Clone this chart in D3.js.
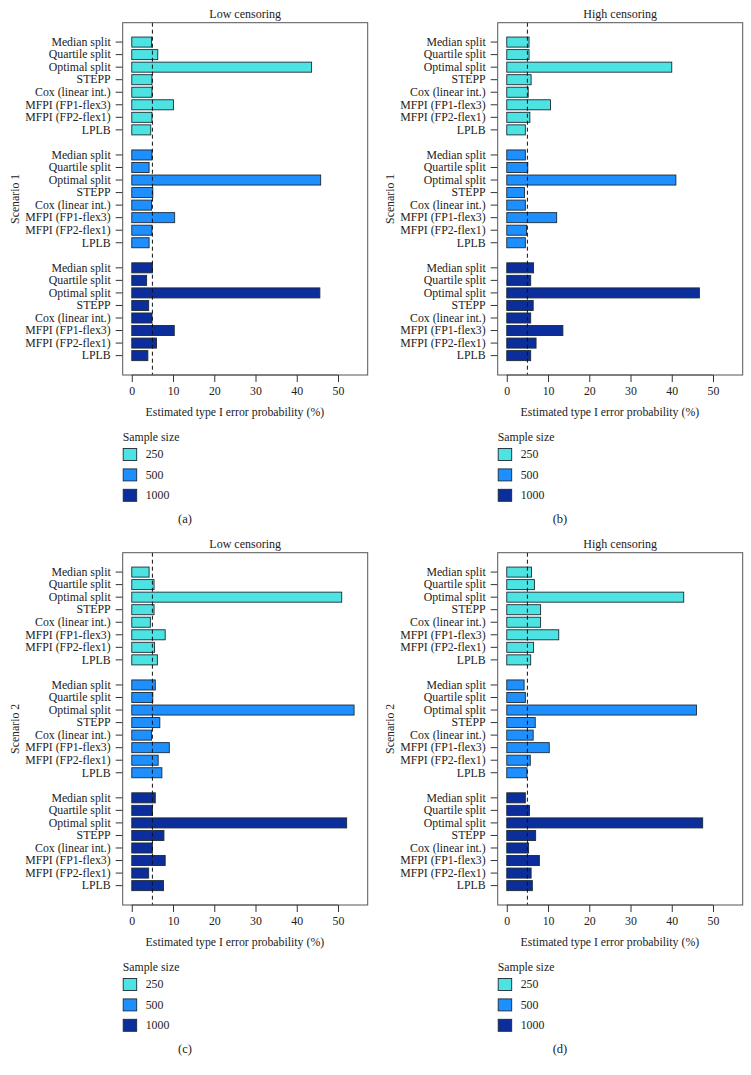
<!DOCTYPE html>
<html>
<head>
<meta charset="utf-8">
<script src="https://cdn.jsdelivr.net/npm/d3@7"></script>
<style>
  body { margin: 0; background: #fff; }
  svg text { font-family: "Liberation Serif", "DejaVu Serif", serif; fill: #222; }
</style>
</head>
<body>
<svg id="chart" width="751" height="1075"></svg>
<script>
// ---- data ----
const methods = ["Median split", "Quartile split", "Optimal split", "STEPP",
  "Cox (linear int.)", "MFPI (FP1-flex3)", "MFPI (FP2-flex1)", "LPLB"];
const sampleSizes = ["250", "500", "1000"];
const xTicks = [0, 10, 20, 30, 40, 50];
const panelLabels = ["(a)", "(b)", "(c)", "(d)"];
const panelTitles = ["Low censoring", "High censoring", "Low censoring", "High censoring"];
const scenarioLabels = ["Scenario 1", "Scenario 1", "Scenario 2", "Scenario 2"];

// values per panel: [n=250, n=500, n=1000], each in method order
const panelA = [
  [4.8, 6.3, 43.6, 4.9, 4.9, 10.1, 4.9, 4.6],
  [4.9, 4.2, 45.8, 5.1, 4.8, 10.4, 4.9, 4.2],
  [5.0, 3.6, 45.6, 4.1, 4.9, 10.3, 6.0, 3.9]
];
const panelB = [
  [5.4, 5.4, 40.0, 5.9, 5.2, 10.6, 5.6, 4.5],
  [4.5, 5.1, 41.0, 4.3, 4.5, 12.1, 4.8, 4.5],
  [6.5, 5.8, 46.7, 6.4, 5.8, 13.6, 7.1, 5.8]
];
const panelC = [
  [4.2, 5.4, 50.9, 5.4, 4.5, 8.1, 5.5, 6.2],
  [5.7, 5.1, 53.9, 6.8, 4.8, 9.1, 6.4, 7.3],
  [5.7, 5.0, 52.1, 7.8, 5.0, 8.1, 4.1, 7.7]
];
const panelD = [
  [6.0, 6.7, 42.9, 8.2, 8.2, 12.6, 6.5, 5.8],
  [4.2, 4.5, 46.0, 6.9, 6.4, 10.3, 5.7, 4.9],
  [4.5, 5.5, 47.5, 7.0, 5.3, 7.9, 5.9, 6.2]
];
const panels = [panelA, panelB, panelC, panelD];
const nominalLevel = 5;

// ---- style / layout ----
const colors = ["#4ee3e3", "#1e8fff", "#0b2e9c"];
const FS = 11.8;
const svg = d3.select("#chart");
const box = { left: 122.7, right: 367.7, top: 22.7, bottom: 375 };
const offsets = [[0, 0], [375, 0], [0, 530], [375, 530]];

// slot keys: 8 bars, a gap, 8 bars, a gap, 8 bars
const slotKeys = [];
sampleSizes.forEach((s, g) => {
  methods.forEach(m => slotKeys.push(s + "|" + m));
  if (g < sampleSizes.length - 1) slotKeys.push("gap" + g);
});

const x = d3.scaleLinear().domain([-2.2, 57.2]).range([box.left, box.right]);
const y = d3.scaleBand().domain(slotKeys).range([box.top, box.bottom])
  .paddingInner(0.2).paddingOuter(1.145);

panels.forEach((data, p) => {
  const [dx, dy] = offsets[p];
  const g = svg.append("g").attr("transform", `translate(${dx},${dy})`);

  // title
  g.append("text").attr("x", (box.left + box.right) / 2).attr("y", 17.5)
    .attr("text-anchor", "middle").attr("font-size", 12).text(panelTitles[p]);

  // bars
  const rows = [];
  data.forEach((vals, si) => vals.forEach((v, mi) =>
    rows.push({ key: sampleSizes[si] + "|" + methods[mi], v, si, m: methods[mi] })));
  g.selectAll("rect.bar").data(rows).enter().append("rect")
    .attr("class", "bar")
    .attr("x", x(0)).attr("y", d => y(d.key))
    .attr("width", d => x(d.v) - x(0)).attr("height", y.bandwidth())
    .attr("fill", d => colors[d.si]).attr("stroke", "#1d2a33").attr("stroke-width", 0.9);

  // y axis labels + ticks
  const yAxis = d3.axisLeft(y).tickValues(slotKeys.filter(k => !k.startsWith("gap")))
    .tickFormat(k => k.split("|")[1]).tickSize(7).tickPadding(5);
  const ya = g.append("g").attr("transform", `translate(${box.left},0)`).call(yAxis)
    .attr("font-family", "Liberation Serif, serif").attr("font-size", FS);
  ya.select(".domain").remove();
  ya.selectAll("line").attr("stroke", "#333");
  ya.selectAll("text").attr("fill", "#222");

  // dashed nominal line
  g.append("line").attr("x1", x(nominalLevel)).attr("x2", x(nominalLevel))
    .attr("y1", box.top).attr("y2", box.bottom)
    .attr("stroke", "#111").attr("stroke-width", 1).attr("stroke-dasharray", "4,3");

  // box
  g.append("rect").attr("x", box.left).attr("y", box.top)
    .attr("width", box.right - box.left).attr("height", box.bottom - box.top)
    .attr("fill", "none").attr("stroke", "#555").attr("stroke-width", 1);

  // x axis
  const xAxis = d3.axisBottom(x).tickValues(xTicks).tickSize(7).tickPadding(5);
  const xa = g.append("g").attr("transform", `translate(0,${box.bottom})`).call(xAxis)
    .attr("font-family", "Liberation Serif, serif").attr("font-size", FS);
  xa.select(".domain").attr("d", `M${x(0)},0H${x(50)}`).attr("stroke", "#555");
  xa.selectAll("line").attr("stroke", "#333");
  xa.selectAll("text").attr("fill", "#222");

  // x label
  g.append("text").attr("x", x(25)).attr("y", 416).attr("text-anchor", "middle")
    .attr("font-size", FS).text("Estimated type I error probability (%)");

  // y label
  g.append("text").attr("transform", `translate(19,${(box.top + box.bottom) / 2}) rotate(-90)`)
    .attr("text-anchor", "middle").attr("font-size", FS).text(scenarioLabels[p]);

  // legend
  g.append("text").attr("x", box.left).attr("y", 440.5).attr("font-size", FS).text("Sample size");
  const lg = g.selectAll("g.leg").data(sampleSizes).enter().append("g")
    .attr("transform", (d, i) => `translate(${box.left},${454.3 + i * 20.4})`);
  lg.append("rect").attr("x", 0.5).attr("y", -5.8).attr("width", 13.5).attr("height", 12)
    .attr("fill", (d, i) => colors[i]).attr("stroke", "#1d2a33").attr("stroke-width", 0.9);
  lg.append("text").attr("x", 23).attr("y", 4).attr("font-size", FS).text(d => d);

  // panel label
  g.append("text").attr("x", 185).attr("y", 523).attr("text-anchor", "middle")
    .attr("font-size", 12.5).text(panelLabels[p]);
});
</script>
</body>
</html>
